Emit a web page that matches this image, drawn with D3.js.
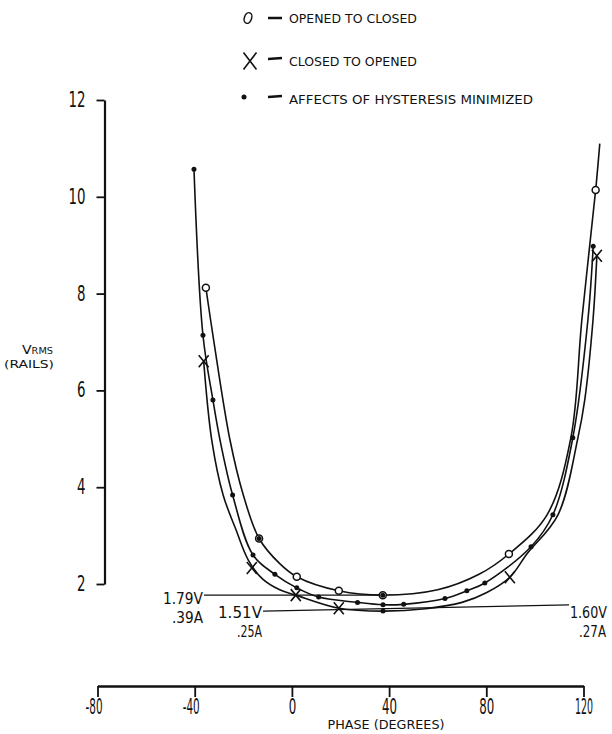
<!DOCTYPE html>
<html><head><meta charset="utf-8">
<script src="https://cdn.jsdelivr.net/npm/d3@7"></script>
<style>
html,body{margin:0;padding:0;background:#fff;}
svg{display:block;}
text{font-family:"Liberation Sans Narrow","DejaVu Sans Condensed","Arial Narrow",sans-serif;fill:#111;}
</style></head><body>
<svg id="c" width="612" height="734"></svg>
<script>
// ---------- data ----------
const xTicks = [-80, -40, 0, 40, 80, 120];
const yTicks = [2, 4, 6, 8, 10, 12];
const legendLabels = ["OPENED TO CLOSED", "CLOSED TO OPENED", "AFFECTS OF HYSTERESIS MINIMIZED"];
const xTitle = "PHASE (DEGREES)";
const yTitleMain = ["V", "RMS"];
const yTitleSub = "(RAILS)";

// curve: opened to closed (outer)
const openedToClosed = [[-35.4,8.12],[-32.2,7.04],[-25.5,4.98],[-20,3.84],[-13.5,2.94],[-5,2.42],[2,2.15],[19.3,1.86],[37.4,1.77],[60,1.88],[77,2.2],[89.3,2.62],[105,3.43],[114.8,5.02],[119.3,7.45],[125,10.14],[126.7,11.1]];
// curve: hysteresis minimized (middle)
const hysteresisMin = [[-40.3,10.57],[-36.6,7.14],[-32.5,5.8],[-29.6,4.98],[-24.4,3.84],[-16,2.6],[-7,2.2],[2,1.92],[11,1.73],[27,1.62],[37.5,1.57],[46,1.58],[63,1.7],[72,1.86],[79.4,2.02],[98.4,2.77],[107.4,3.43],[115.6,5.02],[121.8,7.45],[124,8.98]];
// curve: closed to opened (inner)
const closedToOpened = [[-36.3,6.6],[-33,4.98],[-28.3,3.84],[-23,3.12],[-18,2.5],[-12,2.1],[-5,1.88],[1.6,1.77],[19.3,1.5],[37.5,1.44],[55,1.49],[70,1.62],[80,1.82],[89.7,2.14],[96.7,2.62],[109.5,3.43],[117.7,5.02],[120.5,5.8],[123.9,7.45],[125.5,8.78]];

const circleMarks = [[-35.4,8.12],[-13.5,2.94],[2,2.15],[19.3,1.86],[37.4,1.77],[89.3,2.62],[125,10.14]];
const crossMarks = [[-36.3,6.6],[-16.5,2.33],[1.6,1.77],[19.3,1.5],[89.7,2.14],[125.5,8.78]];
const dotMarks = [[-40.3,10.57],[-36.6,7.14],[-32.5,5.8],[-24.4,3.84],[-16,2.6],[-13.5,2.94],[-7,2.2],[2,1.92],[11,1.73],[27,1.62],[37.4,1.77],[37.5,1.57],[37.5,1.44],[46,1.58],[63,1.7],[72,1.86],[79.4,2.02],[98.4,2.77],[107.4,3.43],[115.6,5.02],[124,8.98]];

const annotOuter = ["1.79V", ".39A"];
const annotInner = ["1.51V", ".25A"];
const annotMiddle = ["1.60V", ".27A"];

// ---------- drawing ----------
const svg = d3.select("#c");
const ink = "#111";
const x = d3.scaleLinear().domain([-80, 120]).range([97.5, 583.5]);
const y = d3.scaleLinear().domain([2, 12]).range([584, 100]);
const narrow = '"Liberation Sans Narrow","DejaVu Sans Condensed",sans-serif';

function fit(sel, widths){ sel.attr("textLength", (d,i)=>widths(d,i)).attr("lengthAdjust","spacingAndGlyphs"); }

// Y axis
const ya = svg.append("g").attr("transform","translate(104.5,0)")
  .call(d3.axisLeft(y).tickValues(yTicks).tickSize(8).tickSizeOuter(0).tickPadding(11).tickFormat(d3.format("d")));
ya.select(".domain").attr("stroke", ink).attr("stroke-width", 2.2);
ya.selectAll(".tick line").attr("stroke", ink).attr("stroke-width", 1.8);
ya.selectAll(".tick text").attr("font-size", 20.5).attr("fill", ink).attr("font-family", narrow)
  .call(fit, d => String(d).length * 8.5);

// X axis
const xa = svg.append("g").attr("transform","translate(0,686)")
  .call(d3.axisBottom(x).tickValues(xTicks).tickSize(11).tickSizeOuter(0).tickPadding(2)
    .tickFormat(d => d < 0 ? "-" + Math.abs(d) : String(d)));
xa.select(".domain").attr("stroke", ink).attr("stroke-width", 2.4);
xa.selectAll(".tick line").attr("stroke", ink).attr("stroke-width", 1.8);
xa.selectAll(".tick text").attr("font-size", 20.5).attr("fill", ink).attr("font-family", narrow)
  .attr("dx", d => d < 0 ? -4 : 0)
  .call(fit, d => d < 0 ? 17 : (String(d).length === 3 ? 18 : String(d).length * 7.5));

svg.append("text").attr("x", 386).attr("y", 729).attr("text-anchor","middle")
  .attr("font-size", 11.5).text(xTitle).call(fit, () => 117);

// Y title
const yt = svg.append("text").attr("x", 22).attr("y", 354);
yt.append("tspan").attr("font-size", 13).text(yTitleMain[0]);
yt.append("tspan").attr("font-size", 9).text(yTitleMain[1]);
yt.attr("textLength", 31).attr("lengthAdjust","spacingAndGlyphs");
svg.append("text").attr("x", 4).attr("y", 368).attr("font-size", 10).text(yTitleSub).call(fit, () => 50);

// curves
const line = d3.line().x(d => x(d[0])).y(d => y(d[1])).curve(d3.curveCatmullRom.alpha(0.5));
const curves = svg.append("g").attr("fill","none").attr("stroke", ink).attr("stroke-width", 1.6);
[openedToClosed, hysteresisMin, closedToOpened].forEach(c => curves.append("path").attr("d", line(c)));

// annotations
const minOf = arr => arr.reduce((a,b) => b[1] < a[1] ? b : a);
const oMin = minOf(openedToClosed), iMin = minOf(closedToOpened), mMin = minOf(hysteresisMin);
const ann = svg.append("g");
ann.append("line").attr("x1", 204).attr("x2", x(oMin[0])).attr("y1", y(oMin[1])).attr("y2", y(oMin[1]))
  .attr("stroke", ink).attr("stroke-width", 1.3);
ann.append("line").attr("x1", 263).attr("x2", 569).attr("y1", y(iMin[1])).attr("y2", y(mMin[1]))
  .attr("stroke", ink).attr("stroke-width", 1.3);
ann.append("text").attr("x", 203).attr("y", 604).attr("text-anchor","end").attr("font-size", 16.5).text(annotOuter[0]).call(fit, () => 40);
ann.append("text").attr("x", 203).attr("y", 623).attr("text-anchor","end").attr("font-size", 16.5).text(annotOuter[1]).call(fit, () => 31);
ann.append("text").attr("x", 262).attr("y", 618).attr("text-anchor","end").attr("font-size", 16.5).text(annotInner[0]).call(fit, () => 44);
ann.append("text").attr("x", 262).attr("y", 637).attr("text-anchor","end").attr("font-size", 16.5).text(annotInner[1]).call(fit, () => 25);
ann.append("text").attr("x", 607).attr("y", 618).attr("text-anchor","end").attr("font-size", 16.5).text(annotMiddle[0]).call(fit, () => 37);
ann.append("text").attr("x", 606).attr("y", 637).attr("text-anchor","end").attr("font-size", 16.5).text(annotMiddle[1]).call(fit, () => 27);

// markers
const crossPath = (cx, cy, w, h) => `M${cx-w},${cy-h}L${cx+w},${cy+h}M${cx+w},${cy-h}L${cx-w},${cy+h}`;
svg.append("g").selectAll("circle").data(circleMarks).join("circle")
  .attr("cx", d => x(d[0])).attr("cy", d => y(d[1])).attr("r", 3.5)
  .attr("fill", "#fff").attr("stroke", ink).attr("stroke-width", 1.5);
svg.append("g").selectAll("circle").data(dotMarks).join("circle")
  .attr("cx", d => x(d[0])).attr("cy", d => y(d[1])).attr("r", 2.5).attr("fill", ink);
svg.append("g").selectAll("path").data(crossMarks).join("path")
  .attr("d", d => crossPath(x(d[0]), y(d[1]), 5, 6))
  .attr("fill","none").attr("stroke", ink).attr("stroke-width", 1.6);

// legend
const legendY = [18, 61, 99];
const lg = svg.append("g");
lg.append("ellipse").attr("cx", 248).attr("cy", legendY[0]).attr("rx", 3.6).attr("ry", 5.5)
  .attr("transform", `rotate(20,248,${legendY[0]})`).attr("fill","none").attr("stroke", ink).attr("stroke-width", 1.5);
lg.append("path").attr("d", crossPath(250, legendY[1], 6.5, 8.5)).attr("fill","none").attr("stroke", ink).attr("stroke-width", 1.6);
lg.append("circle").attr("cx", 244).attr("cy", legendY[2] - 2).attr("r", 2.5).attr("fill", ink);
legendY.forEach((ly, i) => {
  lg.append("line").attr("x1", 268).attr("x2", 282).attr("y1", ly - (i === 0 ? 0 : 2)).attr("y2", ly - (i === 0 ? 0 : 3))
    .attr("stroke", ink).attr("stroke-width", 2.5);
});
lg.selectAll("text").data(legendLabels).join("text")
  .attr("x", 289).attr("y", (d,i) => legendY[i] + 5).attr("font-size", 13).text(d => d)
  .call(fit, (d,i) => [128, 128, 244][i]);
</script>
</body></html>
